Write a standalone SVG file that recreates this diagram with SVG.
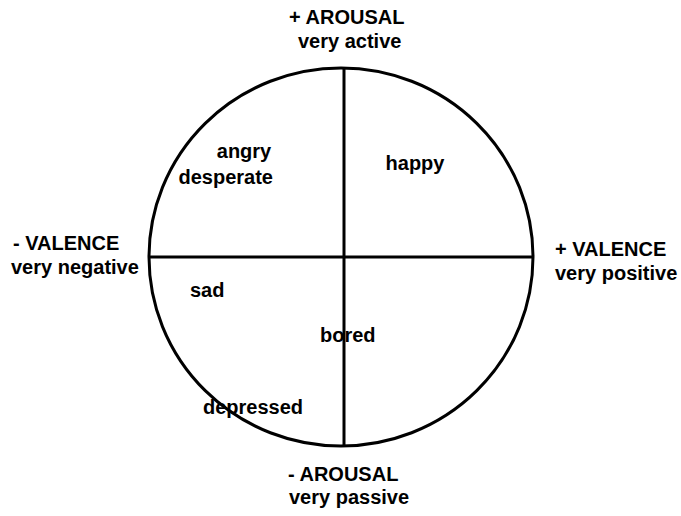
<svg xmlns="http://www.w3.org/2000/svg" width="681" height="516" viewBox="0 0 681 516">
<style>
text{font-family:"Liberation Sans",Arial,sans-serif;font-weight:bold;font-size:20px;fill:#000}
.ln{fill:none;stroke:#000;stroke-width:3}
</style>
<rect width="681" height="516" fill="#fff"/>
<g id="circumplex">
<ellipse class="ln" cx="341" cy="257" rx="192" ry="189"/>
</g>
<g id="axes">
<line class="ln" x1="344" y1="68" x2="344" y2="446"/>
<line class="ln" x1="149" y1="257" x2="533" y2="257"/>
</g>
<g id="arousal-high"><text x="289" y="24">+ AROUSAL</text><text x="298" y="48">very active</text></g>
<g id="arousal-low"><text x="288" y="481">- AROUSAL</text><text x="289" y="504">very passive</text></g>
<g id="valence-neg"><text x="13" y="250">- VALENCE</text><text x="11" y="274">very negative</text></g>
<g id="valence-pos"><text x="555" y="256">+ VALENCE</text><text x="555" y="280">very positive</text></g>
<g id="q1"><text x="415" y="170" text-anchor="middle">happy</text></g>
<g id="q2"><text x="244" y="158" text-anchor="middle">angry</text><text x="273" y="184" text-anchor="end">desperate</text></g>
<g id="q3"><text x="190" y="297">sad</text><text x="203" y="414">depressed</text></g>
<g id="q4"><text x="320" y="342">bored</text></g>
</svg>
